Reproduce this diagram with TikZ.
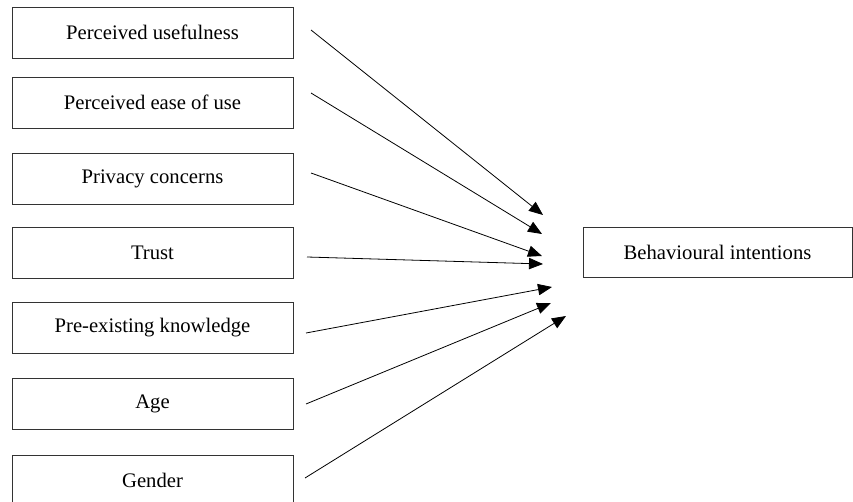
\documentclass[tikz,border=0pt]{standalone}
\usepackage{fontspec}
\setmainfont{Liberation Serif}
\usetikzlibrary{arrows, shapes, positioning, arrows.meta}

\begin{document}
\begin{tikzpicture}[x=0.75pt, y=-0.75pt,
  box/.style={draw=black!80, line width=0.7pt, minimum width=210.75pt, minimum height=38.25pt, inner sep=0pt, font=\fontsize{15.5}{18}\selectfont},
  link/.style={line width=0.6pt, -{Triangle[length=10.5pt, width=8.5pt]}}]
\useasboundingbox (0, 0) rectangle (853, 502);
\node (pu)[box] at (152.5, 32.5) {Perceived usefulness};
\node (pe)[box] at (152.5, 102.5) {Perceived ease of use};
\node (pc)[box] at (152.5, 178.5) {Privacy concerns};
\node (tr)[box] at (152.5, 252.5) {Trust};
\node (pk)[box] at (152.5, 328) {Pre-existing knowledge};
\node (ag)[box] at (152.5, 403.5) {Age};
\node (ge)[box] at (152.5, 480.5) {Gender};
\node (bi)[box, minimum width=201.75pt, minimum height=37.5pt] at (717.5, 252) {Behavioural intentions};
% free ends of the arrows
\coordinate (s1) at (311, 30);  \coordinate (e1) at (543, 215);
\coordinate (s2) at (311, 93);  \coordinate (e2) at (542, 234);
\coordinate (s3) at (311, 173); \coordinate (e3) at (542, 256);
\coordinate (s4) at (307, 257); \coordinate (e4) at (543, 264);
\coordinate (s5) at (306, 333); \coordinate (e5) at (552, 287);
\coordinate (s6) at (306, 404); \coordinate (e6) at (551, 303);
\coordinate (s7) at (305, 478); \coordinate (e7) at (566, 316);
\foreach \i in {1,...,7}
  \draw[link] (s\i) -- (e\i);
\end{tikzpicture}
\end{document}
